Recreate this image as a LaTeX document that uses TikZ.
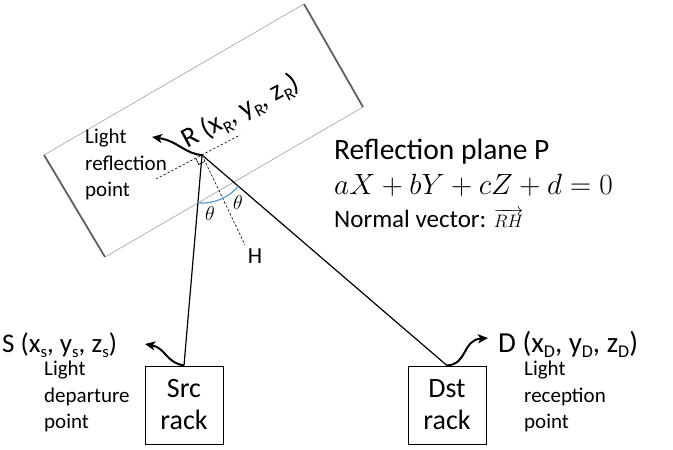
\RequirePackage{fix-cm}
\documentclass[tikz,border=0pt]{standalone}
\usepackage[no-math]{fontspec}
\setmainfont{Carlito}
\usepackage{graphicx}
\usetikzlibrary{arrows.meta,calc}
\definecolor{arcblue}{RGB}{91,155,213}
\newcommand{\fsz}[2]{\fontsize{#1}{#2}\selectfont}
\newcommand{\lsub}[1]{\raisebox{-0.2em}{\scalebox{0.62}{#1}}}

\begin{document}
\begin{tikzpicture}[x=1pt,y=-1pt,
  planeedge/.style={draw=gray!85, line width=0.5pt},
  planeside/.style={draw=gray!75!black, line width=1.8pt},
  ray/.style={draw=black, line width=1.2pt},
  guide/.style={draw=black, line width=0.6pt, dash pattern=on 2.5pt off 1.8pt},
  curlyarrow/.style={draw=black, line width=2pt, -{Stealth[length=10pt,width=9pt,inset=2.5pt]}},
  rackbox/.style={draw=black, line width=0.9pt, minimum width=78pt, minimum height=78pt, align=center, inner sep=0pt, font=\fsz{28}{32}},
  note/.style={align=left, inner sep=0pt, anchor=north west, font=\fsz{21}{26.5}},
  coordlabel/.style={inner sep=0pt, anchor=base west, font=\fsz{27}{30}},
  anglearc/.style={draw=arcblue, line width=1.2pt},
  thetalabel/.style={inner sep=0pt, font=\fsz{20}{20}},
]
\useasboundingbox (0,0) rectangle (673,450);

% the reflecting plane, seen tilted
\coordinate (pl) at (44,155);
\coordinate (pt) at (304,4);
\coordinate (pr) at (363,107);
\coordinate (pb) at (105,257);
\draw[planeedge] (pl) -- (pt) (pb) -- (pr);
\draw[planeside] (pl) -- (pb) (pt) -- (pr);

% reflection point and its guide lines
\coordinate (R) at (202,155);
\coordinate (tl) at (156,179);
\coordinate (tr) at (240,135);
\coordinate (hend) at (245,245);
\draw[guide] (tl) -- (tr);
\draw[guide] (R) -- (hend);
\node[inner sep=0pt, font=\fsz{23}{23}] (hlab) at (255,256) {H};

% right-angle mark between plane and normal
\coordinate (sqa) at ($(R)!7pt!(tl)$);
\coordinate (sqb) at ($(R)!7pt!(hend)$);
\draw[line width=0.6pt] (sqa) -- ($(sqa)+(sqb)-(R)$) -- (sqb);

% racks
\node[rackbox] (src) at (184,405) {Src\\rack};
\node[rackbox] (dst) at (447,405) {Dst\\rack};

% light path
\draw[ray] (R) -- (src.north);
\draw[ray] (R) -- (dst.north);

% incidence and reflection angles
\draw[anglearc] ($(R)+(95.4:48)$) arc[start angle=95.4, end angle=64.5, radius=48];
\draw[anglearc] ($(R)+(64.5:48)$) arc[start angle=64.5, end angle=40.7, radius=48];
\node[thetalabel] (thl) at (210,214) {$\theta$};
\node[thetalabel] (thr) at (238,203) {$\theta$};

% curled pointers to the coordinate labels
\coordinate (rtip) at (152,137);
\coordinate (stip) at (145,344);
\coordinate (dtip) at (488,338);
\draw[curlyarrow] (R) .. controls (185,154) and (178,141) .. (rtip);
\draw[curlyarrow] (src.north) .. controls (165,362) and (166,348) .. (stip);
\draw[curlyarrow] (dst.north) .. controls (468,364) and (462,340) .. (dtip);

% coordinate labels
\node[coordlabel, rotate=28, font=\fsz{28}{30}] (rlab) at (187,149) {R (x\lsub{R}, y\lsub{R}, z\lsub{R})};
\node[coordlabel] (slab) at (2,352) {S (x\lsub{s}, y\lsub{s}, z\lsub{s})};
\node[coordlabel, font=\fsz{29}{30}] (dlab) at (498,352) {D (x\lsub{D}, y\lsub{D}, z\lsub{D})};

% descriptions
\node[note] (rnote) at (85,129) {Light\\reflection\\point};
\node[note] (snote) at (44,361) {Light\\departure\\point};
\node[note] (dnote) at (524,361) {Light\\reception\\point};

% plane equation
\node[inner sep=0pt, anchor=base west, font=\fsz{29.5}{30}] (ptitle) at (334,159) {Reflection plane P};
\node[inner sep=0pt, anchor=base west, font=\fsz{29.3}{30}] (peq) at (334,194) {$aX+bY+cZ+d=0$};
\node[inner sep=0pt, anchor=base west, font=\fsz{25}{25}] (pnorm) at (334,227) {Normal vector: {\fsz{18}{18}$\overrightarrow{RH}$}};
\end{tikzpicture}
\end{document}
